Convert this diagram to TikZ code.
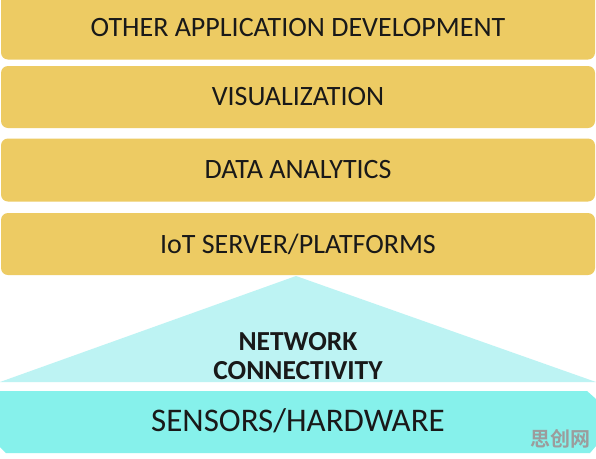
\documentclass[tikz,border=0pt]{standalone}
\usepackage{fontspec}
\setmainfont{Carlito}
\newfontfamily\cjk{Noto Sans CJK SC Bold}
\definecolor{baryellow}{HTML}{EDCB63}
\definecolor{sensorcyan}{HTML}{86F1EB}
\definecolor{tricyan}{HTML}{BDF3F3}
\definecolor{wm}{HTML}{9C9C9C}
\tikzset{
  layerbar/.style={fill=baryellow, draw=none, rounded corners=7pt, minimum width=594pt, inner sep=0pt, font=\fontsize{28}{32}\selectfont, text=black!90},
}
\begin{document}
\begin{tikzpicture}[x=1pt,y=-1pt]
\useasboundingbox (0,0) rectangle (596,458);
\fill[white] (0,0) rectangle (596,458);
\begin{scope}
\clip (0,0) rectangle (596,458);
\node[layerbar, minimum height=75pt] (apps) at (298,22) {};
\node[font=\fontsize{28}{32}\selectfont, text=black!90] (appstxt) at (298,28) {OTHER APPLICATION DEVELOPMENT};
\end{scope}
\node[layerbar, minimum height=62pt] (vis) at (298,97) {VISUALIZATION};
\node[layerbar, minimum height=63pt] (data) at (298,170) {DATA ANALYTICS};
\node[layerbar, minimum height=62pt] (iot) at (298,244) {IoT SERVER/PLATFORMS};
\fill[tricyan] (296,276) -- (596,382) -- (0,382) -- cycle;
\node[font=\bfseries\fontsize{27.5}{29.5}\selectfont, align=center, text=black!90] (net) at (298,356) {NETWORK\\CONNECTIVITY};
\fill[sensorcyan] (0,391) -- (587,391) -- (596,399) -- (596,446) -- (590,453) -- (6,453) -- (0,447) -- cycle;
\node[font=\fontsize{33}{38}\selectfont, text=black!90] (sens) at (298,421) {SENSORS/HARDWARE};
\node[font=\cjk\fontsize{20}{22}\selectfont, text=wm] (mark) at (560,439) {思创网};
\end{tikzpicture}
\end{document}
